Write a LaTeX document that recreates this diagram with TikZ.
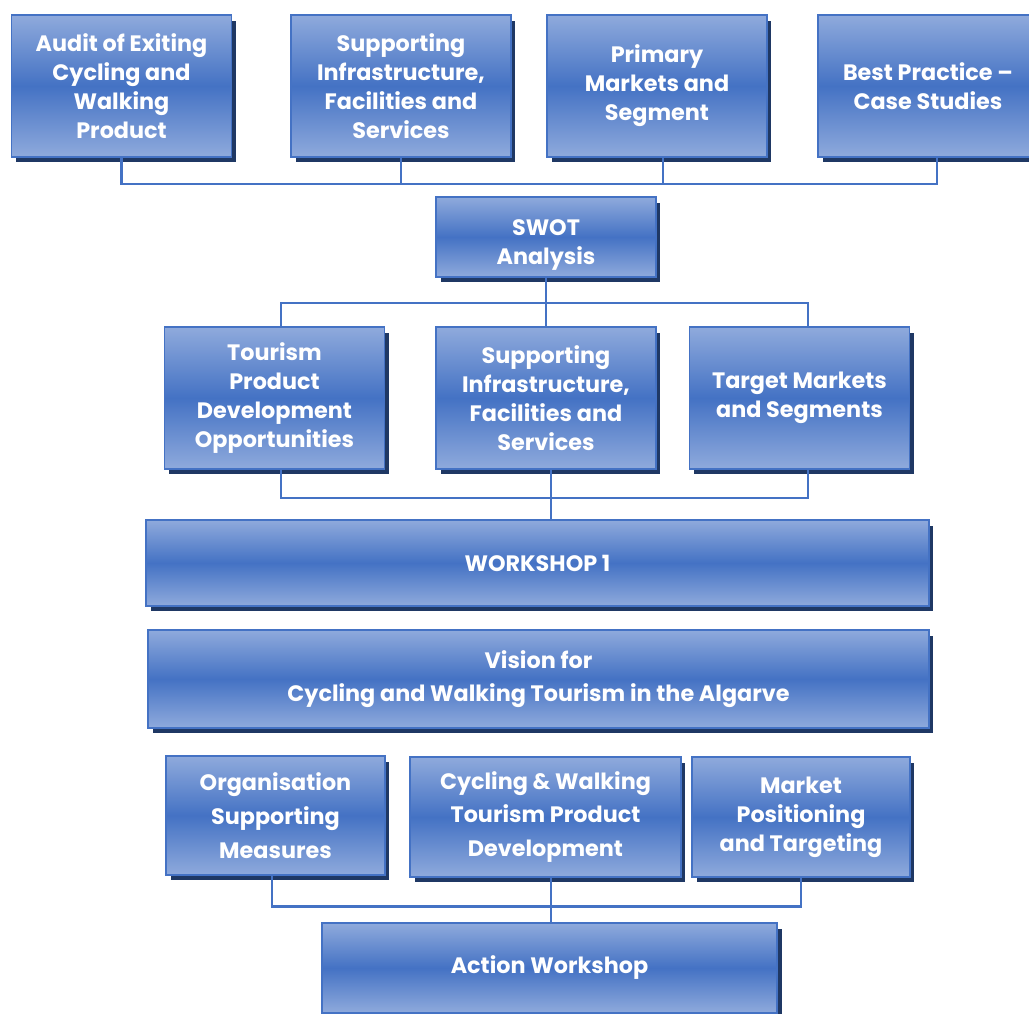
\documentclass[tikz,border=0pt]{standalone}
\usepackage{fontspec}
\setmainfont{Poppins}
\usetikzlibrary{shadows}
\usetikzlibrary{positioning}
\usetikzlibrary{calc}

\definecolor{boxblue}{RGB}{68,114,196}
\definecolor{boxlite}{RGB}{143,170,220}
\definecolor{boxshade}{RGB}{31,56,100}

\tikzset{
  stage/.style={draw=boxblue, line width=1.1pt, top color=boxlite, bottom color=boxlite,
    middle color=boxblue,
    drop shadow={shadow xshift=0.09cm, shadow yshift=-0.11cm, fill=boxshade, opacity=1},
    text=white, font=\bfseries\fontsize{12.7}{16.5}\selectfont, align=center, inner sep=0pt},
  wide/.style={font=\bfseries\fontsize{12.7}{19.2}\selectfont},
  link/.style={draw=boxblue, line width=1.3pt}
}

\begin{document}
\begin{tikzpicture}[x=0.02cm, y=-0.02cm]

	\useasboundingbox (0,0) rectangle (1029,1014);

	\def\bw{4.4cm}
	\def\bh{2.84cm}

	% first row
	\node[stage, minimum width=\bw, minimum height=\bh] (audit) at (121.5,86) {Audit of Exiting\\Cycling and\\Walking\\Product};
	\node[stage, minimum width=\bw, minimum height=\bh] (support) at (401,86) {Supporting\\Infrastructure,\\Facilities and\\Services};
	\node[stage, minimum width=\bw, minimum height=\bh] (primary) at (657,86) {Primary\\Markets and\\Segment};
	\node[stage, minimum width=\bw, minimum height=\bh] (best) at (928,86) {Best Practice --\\Case Studies};

	\node[stage, minimum width=\bw, minimum height=1.6cm] (swot) at (546,237) {\rule{0pt}{0.62cm}SWOT\\Analysis};

	% second row
	\node[stage, minimum width=\bw, minimum height=\bh] (tour) at (274.5,398) {Tourism\\Product\\Development\\Opportunities};
	\node[stage, minimum width=\bw, minimum height=\bh] (infra) at (546,398) {Supporting\\Infrastructure,\\Facilities and\\Services};
	\node[stage, minimum width=\bw, minimum height=\bh] (target) at (799.5,398) {Target Markets\\and Segments};

	\node[stage, minimum width=15.66cm, minimum height=1.72cm] (ws) at (537.5,563) {WORKSHOP 1};
	\node[stage, wide, minimum width=15.62cm, minimum height=1.96cm] (vision) at (538.5,679) {Vision for\\Cycling and Walking Tourism in the Algarve};

	% third row
	\node[stage, wide, minimum width=4.38cm, minimum height=2.38cm] (org) at (275.5,815.5) {Organisation\\Supporting\\Measures};
	\node[stage, wide, minimum width=5.42cm, minimum height=2.4cm] (cyc) at (545.5,817) {Cycling \& Walking\\Tourism Product\\Development};
	\node[stage, minimum width=4.36cm, minimum height=2.4cm] (market) at (801,817) {Market\\Positioning\\and Targeting};

	\node[stage, minimum width=9.12cm, minimum height=1.8cm] (action) at (549.5,968) {Action Workshop};

	% connectors
	\draw[link] (audit.south) -- ++(0,26) -| ([xshift=0.18cm]best.south);
	\draw[link] (support.south) -- ++(0,26);
	\draw[link] ([xshift=0.12cm]primary.south) -- ++(0,26);

	\draw[link] (swot.south) -- ++(0,25) coordinate (swotj);
	\draw[link] ([xshift=0.13cm]tour.north) |- (swotj) -| ([xshift=0.17cm]target.north);
	\draw[link] (swotj) -- (infra.north);

	\draw[link] ([xshift=0.13cm]tour.south) -- ++(0,28) -| ([xshift=0.17cm]target.south);
	\draw[link] ([xshift=0.1cm]infra.south) -- ([xshift=0.1cm]infra.south |- ws.north);

	\draw[link] ([xshift=-0.07cm]org.south) -- ++(0,30.5) -| (market.south);
	\draw[link] ([xshift=0.11cm]cyc.south) -- ([xshift=0.11cm]cyc.south |- action.north);

\end{tikzpicture}
\end{document}
